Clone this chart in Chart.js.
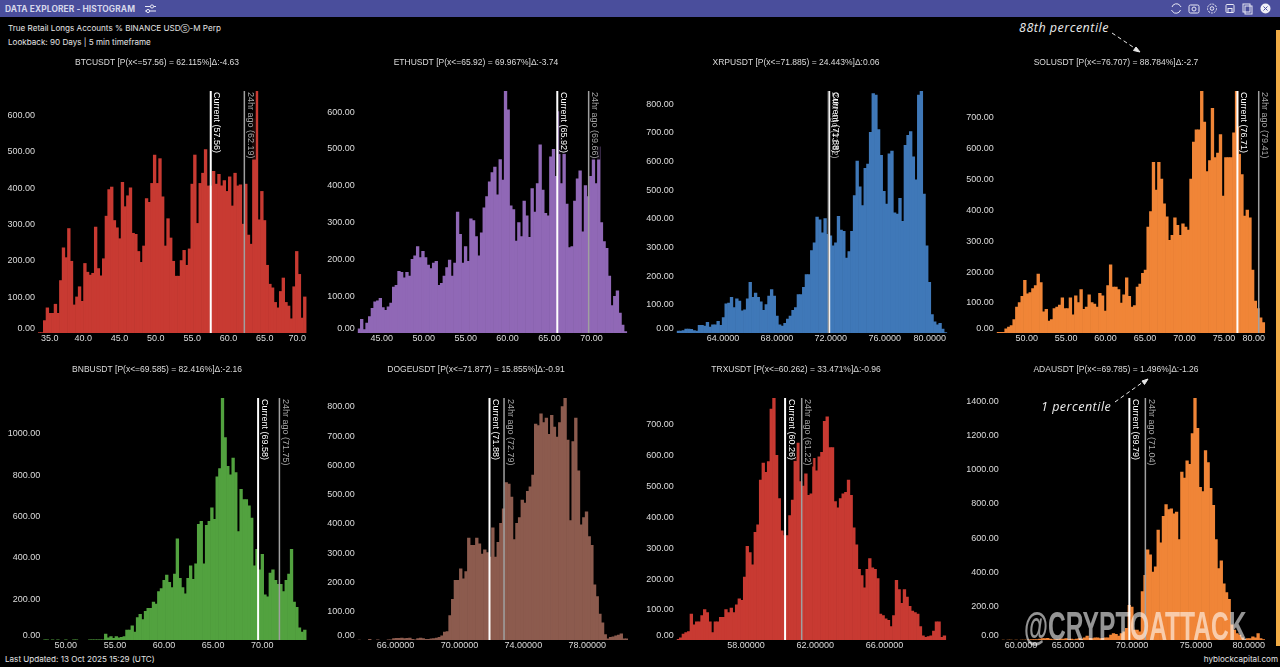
<!DOCTYPE html>
<html>
<head>
<meta charset="utf-8">
<title>Data Explorer - Histogram</title>
<script src="https://cdn.jsdelivr.net/npm/chart.js@4"></script>
<style>
    html, body { margin: 0; padding: 0; background: #000; width: 1280px; height: 667px; overflow: hidden; }
    body { position: relative; font-family: Inter, "Liberation Sans", sans-serif; color: #e4e4e4; }
    canvas { position: absolute; }
    .bar { position: absolute; left: 0; top: 0; width: 1280px; height: 17px; background: #4a4e9c; }
    .bar b { position: absolute; left: 5px; top: 2.5px; font-size: 8.4px; line-height: 12px; color: #d6d7ea; font-weight: 700; letter-spacing: 0.1px; }
    .line { position: absolute; left: 8px; font-size: 8.1px; line-height: 12px; white-space: nowrap; }
    .line span { font-size: 6.5px; }
    .foot { position: absolute; top: 653px; font-size: 8.1px; line-height: 12px; white-space: nowrap; }
    .note { position: absolute; font-family: "Open Sans", sans-serif; font-style: italic; font-size: 12.5px; line-height: 16px; letter-spacing: 0.5px; color: #ececec; white-space: nowrap; z-index: 3; }
    .mark { position: absolute; left: 1024px; top: 604px; font-family: "Liberation Sans", sans-serif; font-weight: 700; font-size: 41px; line-height: 44px; color: rgba(255,255,255,0.58); white-space: nowrap; z-index: 3; transform: scaleX(0.6); transform-origin: left top; }
    .scroll { position: absolute; left: 1276px; top: 30px; width: 4px; height: 616px; background: #f0ab45; }
    svg { position: absolute; }
</style>
</head>
<body>
<div class="bar"><b>DATA EXPLORER - HISTOGRAM</b></div>
<svg style="left:0;top:0;z-index:2" width="1280" height="17" fill="none" stroke="#e8e8f4" stroke-width="1">
    <path d="M145 6.5h11M145 11h11"/><circle cx="152" cy="6.5" r="1.6" fill="#4a4e9c"/><circle cx="148" cy="11" r="1.6" fill="#4a4e9c"/>
    <path d="M1172 7a4.6 4.6 0 0 1 8-1.5l1 1.5M1180.500 10a4.600 4.600 0 0 1-8 1.500l-1-1.500"/>
    <rect x="1189" y="5" width="10" height="8" rx="1.500"/><circle cx="1194" cy="9" r="2"/>
    <circle cx="1212" cy="8.500" r="4.500" stroke-dasharray="2 1"/><circle cx="1212" cy="8.500" r="1.800"/>
    <rect x="1226" y="4.500" width="8" height="8" rx="1"/><rect x="1228" y="8.500" width="4" height="4"/>
    <rect x="1243" y="4" width="7" height="8"/><rect x="1245" y="6" width="7" height="8"/>
    <circle cx="1265.500" cy="8.500" r="5" fill="#f0f0f6" stroke="none"/><path d="M1263.500 6.500l4 4M1267.500 6.500l-4 4" stroke="#4a4e9c"/>
</svg>
<div class="line" style="top:22px">True Retail Longs Accounts % BINANCE USD<span>Ⓢ</span>-M Perp</div>
<div class="line" style="top:36px">Lookback: 90 Days | 5 min timeframe</div>
<div class="foot" style="left:5px">Last Updated: 13 Oct 2025 15:29 (UTC)</div>
<div class="foot" style="right:2px">hyblockcapital.com</div>
<div class="note" style="left:1019px;top:20px">88th percentile</div>
<div class="note" style="left:1041px;top:399px">1 percentile</div>
<svg style="left:0;top:0;z-index:3" width="1280" height="667" fill="none" stroke="#e8e8e8" stroke-width="1">
    <path d="M1112 33L1136 49" stroke-dasharray="4 3"/><path d="M1140 52l-6.500-1.500 2.500-3.500z" fill="#e8e8e8"/>
    <path d="M1115 402L1143 382" stroke-dasharray="4 3"/><path d="M1148 379l-3.500 5.500-2.500-3.500z" fill="#e8e8e8"/>
</svg>
<div class="mark">@CRYPTOATTACK</div>
<div class="scroll"></div>

<script>
// bin counts
const btcValues = [2,2,35,70,55,55,80,55,145,235,208,288,198,78,100,128,88,192,168,160,165,292,178,158,205,322,395,402,310,290,260,415,348,378,400,275,272,225,195,240,370,360,412,490,412,480,375,240,315,262,198,157,157,200,228,187,232,410,490,302,412,440,505,405,405,445,410,437,405,420,390,430,350,440,405,408,300,410,270,245,590,665,312,390,310,187,135,125,85,70,115,152,85,75,40,128,225,162,42,100];
const ethValues = [12,38,10,28,45,68,85,88,95,70,62,72,82,125,130,168,165,150,165,155,200,210,235,205,222,205,185,175,190,195,130,135,155,178,198,155,190,328,268,190,235,195,310,305,262,210,272,340,370,410,435,450,375,470,415,655,605,345,335,250,300,262,358,318,260,392,328,405,510,388,325,318,478,498,425,600,405,490,350,232,235,358,418,440,275,400,370,425,475,405,505,300,248,230,155,75,100,115,55,22,5];
const xrpValues = [8,8,10,15,15,14,10,8,28,28,25,38,22,30,30,42,28,55,103,105,125,90,120,112,78,82,120,178,125,140,125,110,80,100,130,152,130,60,30,25,35,50,60,80,90,135,135,160,205,205,288,315,405,395,350,400,345,340,305,315,408,360,355,262,285,355,480,600,510,445,575,590,700,835,830,710,620,495,450,625,635,420,415,470,390,655,690,703,615,535,830,843,485,305,178,65,40,30,35,15,3];
const solValues = [3,3,3,15,20,25,45,85,100,120,172,128,132,145,155,192,165,70,78,40,45,80,85,92,115,80,80,115,60,122,100,142,78,85,125,100,95,85,130,122,72,155,222,150,150,142,98,125,180,120,85,90,150,160,195,205,345,395,555,465,555,500,420,378,302,318,375,350,318,355,345,335,500,620,660,660,785,685,525,560,730,570,585,645,445,570,570,570,650,785,670,515,380,400,375,205,105,80,50,35];
const bnbValues = [2,2,0,2,0,2,0,0,2,0,0,2,2,0,0,0,0,2,2,2,2,2,3,30,12,18,10,18,12,15,18,50,50,70,40,110,125,100,140,155,155,185,175,235,250,290,315,280,255,320,490,300,255,225,300,360,295,370,560,575,370,555,575,640,585,790,830,1169,980,840,800,880,810,525,730,680,680,650,590,360,440,340,415,220,210,325,340,290,270,270,235,290,320,440,185,160,60,40,50];
const dogeValues = [1,0,0,0,3,0,0,2,0,0,0,2,2,6,7,7,8,6,7,8,3,2,6,8,6,3,3,5,6,8,10,15,28,30,85,140,205,205,245,210,235,350,325,325,350,330,295,310,300,285,385,285,335,400,450,540,535,490,345,400,420,480,470,510,525,565,740,735,775,745,760,705,770,730,695,745,800,828,685,410,680,760,580,395,420,440,355,325,190,150,90,60,20,5,10,12,15,18,22,5,5];
const trxValues = [3,8,20,25,28,85,50,60,60,80,100,90,60,25,60,60,75,75,100,90,105,90,115,135,130,205,305,285,245,350,375,520,575,545,580,750,785,600,460,355,340,340,405,455,590,640,515,500,540,470,475,590,550,595,610,710,725,625,625,450,430,460,475,480,520,470,365,310,230,210,170,230,265,235,230,200,85,80,70,65,45,80,195,165,120,165,140,110,95,90,85,45,15,10,12,15,30,60,60,10,15];
const adaValues = [2,0,2,2,0,2,0,2,2,2,3,5,5,5,8,10,10,12,8,5,5,5,8,8,10,5,8,5,8,10,8,15,25,12,10,15,15,10,12,15,15,30,40,35,25,40,50,70,205,195,60,60,50,285,380,530,500,400,430,645,570,725,795,765,770,740,750,590,985,950,1050,1030,1210,1416,1240,895,870,1110,1040,890,790,590,420,465,330,280,240,90,60,40,30,15,5,10,10,20,15,40,10,5];

const btcYTicks = [0,100,200,300,400,500,600];
const ethYTicks = [0,100,200,300,400,500,600];
const xrpYTicks = [0,100,200,300,400,500,600,700,800];
const solYTicks = [0,100,200,300,400,500,600,700];
const bnbYTicks = [0,200,400,600,800,1000];
const dogeYTicks = [0,100,200,300,400,500,600,700,800];
const trxYTicks = [0,100,200,300,400,500,600,700];
const adaYTicks = [0,200,400,600,800,1000,1200,1400];

const btcXTicks = [35,40,45,50,55,60,65,70];
const ethXTicks = [45,50,55,60,65,70];
const xrpXTicks = [64,68,72,76,80];
const solXTicks = [50,55,60,65,70,75,80];
const bnbXTicks = [50,55,60,65,70];
const dogeXTicks = [66,70,74,78];
const trxXTicks = [58,62,66];
const adaXTicks = [60,65,70,75,80];

const titles = [
    'BTCUSDT [P(x<=57.56) = 62.115%]Δ:-4.63',
    'ETHUSDT [P(x<=65.92) = 69.967%]Δ:-3.74',
    'XRPUSDT [P(x<=71.885) = 24.443%]Δ:0.06',
    'SOLUSDT [P(x<=76.707) = 88.784%]Δ:-2.7',
    'BNBUSDT [P(x<=69.585) = 82.416%]Δ:-2.16',
    'DOGEUSDT [P(x<=71.877) = 15.855%]Δ:-0.91',
    'TRXUSDT [P(x<=60.262) = 33.471%]Δ:-0.96',
    'ADAUSDT [P(x<=69.785) = 1.496%]Δ:-1.26'
];

const currentValues = [57.56, 65.92, 71.88, 76.71, 69.58, 71.88, 60.26, 69.79];
const dayAgoValues = [62.19, 69.66, 71.82, 79.41, 71.75, 72.79, 61.22, 71.04];

// [first bin edge, last bin edge, right end of the axis]
const xRanges = [
    [33.76, 70.70, 70.96],
    [42.13, 74.20, 74.35],
    [60.57, 80.60, 80.69],
    [46.20, 80.17, 80.46],
    [47.71, 74.47, 74.66],
    [63.63, 80.55, 80.55],
    [54.00, 69.54, 69.67],
    [59.82, 80.36, 80.54]
];

const panels = [
    { values: btcValues, yTicks: btcYTicks, xTicks: btcXTicks, digits: 1, color: '#c83a32', left: 0, plotLeft: 38, plotRight: 308 },
    { values: ethValues, yTicks: ethYTicks, xTicks: ethXTicks, digits: 2, color: '#9068b6', left: 319, plotLeft: 357.7, plotRight: 628 },
    { values: xrpValues, yTicks: xrpYTicks, xTicks: xrpXTicks, digits: 4, color: '#3f78b8', left: 639, plotLeft: 676.7, plotRight: 948 },
    { values: solValues, yTicks: solYTicks, xTicks: solXTicks, digits: 2, color: '#f08537', left: 959, plotLeft: 996.7, plotRight: 1267 },
    { values: bnbValues, yTicks: bnbYTicks, xTicks: bnbXTicks, digits: 2, color: '#52a23f', left: 0, plotLeft: 43.3, plotRight: 308 },
    { values: dogeValues, yTicks: dogeYTicks, xTicks: dogeXTicks, digits: 5, color: '#8c5b4e', left: 319, plotLeft: 357.7, plotRight: 628 },
    { values: trxValues, yTicks: trxYTicks, xTicks: trxXTicks, digits: 5, color: '#c83a32', left: 639, plotLeft: 676.7, plotRight: 948 },
    { values: adaValues, yTicks: adaYTicks, xTicks: adaXTicks, digits: 4, color: '#f08537', left: 959, plotLeft: 1001.7, plotRight: 1267 }
];

const chartFont = '"Liberation Sans"';

// the site pulls edge labels inside the plot and lifts the 0.00 label off the baseline
const labelNudge = {
    id: 'labelNudge',
    beforeDraw(chart) {
        if (chart.$nudged) return;
        chart.$nudged = true;
        const area = chart.chartArea;
        const ctx = chart.ctx;
        chart.scales.x.getLabelItems(area).forEach(item => {
            ctx.font = item.font.string;
            const half = ctx.measureText(item.label).width / 2;
            const t = item.options.translation;
            t[0] = Math.min(Math.max(t[0], area.left + 3 + half), area.right - 2 - half);
        });
        chart.scales.y.getLabelItems(area).forEach(item => {
            item.options.translation[1] += item.label === '0.00' ? -4.3 : 0.7;
        });
    }
};

const markers = {
    id: 'markers',
    afterDatasetsDraw(chart, args, opts) {
        const { ctx, chartArea, scales } = chart;
        const list = [
            { value: opts.dayAgo, text: '24hr ago (' + opts.dayAgo.toFixed(2) + ')', line: '#a0a0a0', width: 1.5, color: '#a8a8a8' },
            { value: opts.current, text: 'Current (' + opts.current.toFixed(2) + ')', line: '#ffffff', width: 2, color: '#ffffff' }
        ];
        ctx.save();
        ctx.font = '9px ' + chartFont;
        ctx.textAlign = 'left';
        ctx.textBaseline = 'middle';
        // black strips first, so two close labels both stay readable
        list.forEach(m => {
            const x = scales.x.getPixelForValue(m.value);
            ctx.fillStyle = 'rgba(0,0,0,0.85)';
            ctx.fillRect(x + 1.5, chartArea.top, 10, ctx.measureText(m.text).width + 2);
        });
        list.slice().reverse().forEach(m => {
            const x = scales.x.getPixelForValue(m.value);
            ctx.strokeStyle = m.line;
            ctx.lineWidth = m.width;
            ctx.beginPath();
            ctx.moveTo(x, chartArea.top);
            ctx.lineTo(x, chartArea.bottom);
            ctx.stroke();
        });
        list.forEach(m => {
            const x = scales.x.getPixelForValue(m.value);
            ctx.save();
            ctx.translate(x + 6, chartArea.top + 1);
            ctx.rotate(Math.PI / 2);
            ctx.fillStyle = m.color;
            ctx.fillText(m.text, 0, 0);
            ctx.restore();
        });
        ctx.restore();
    }
};

panels.forEach((panel, i) => {
    const canvas = document.createElement('canvas');
    canvas.width = 314;
    canvas.height = 292;
    canvas.style.left = panel.left + 'px';
    canvas.style.top = (i < 4 ? 54 : 361) + 'px';
    document.body.appendChild(canvas);

    const [binStart, binEnd, axisEnd] = xRanges[i];
    const binWidth = (binEnd - binStart) / panel.values.length;
    const bars = panel.values.map((v, k) => ({ x: binStart + (k + 0.5) * binWidth, y: v }));
    // same padding both sides keeps the title on the middle of the canvas
    const sidePad = panel.left + 314 - panel.plotRight;

    new Chart(canvas.getContext('2d'), {
        type: 'bar',
        data: {
            datasets: [{
                data: bars,
                backgroundColor: panel.color,
                borderWidth: 0,
                barPercentage: 1.25,
                categoryPercentage: 1
            }]
        },
        options: {
            responsive: false,
            animation: false,
            events: [],
            layout: { padding: { left: sidePad, right: sidePad, top: 0, bottom: 0 } },
            plugins: {
                legend: { display: false },
                tooltip: { enabled: false },
                title: {
                    display: true,
                    text: titles[i],
                    color: '#dcdcdc',
                    font: { family: chartFont, size: 8.5, weight: 'normal' },
                    padding: { top: 3.6, bottom: 23.2 }
                },
                markers: { current: currentValues[i], dayAgo: dayAgoValues[i] }
            },
            scales: {
                x: {
                    type: 'linear',
                    offset: false,
                    min: binStart,
                    max: axisEnd,
                    grid: { display: false, drawTicks: false },
                    border: { display: false },
                    afterBuildTicks: scale => { scale.ticks = panel.xTicks.map(v => ({ value: v })); },
                    afterFit: scale => {
                        scale.height = 13;
                        scale.paddingLeft = 0;
                        scale.paddingRight = 0;
                    },
                    ticks: {
                        autoSkip: false,
                        maxRotation: 0,
                        padding: 0,
                        color: '#dcdcdc',
                        font: { family: chartFont, size: 9 },
                        callback: v => Number(v).toFixed(panel.digits)
                    }
                },
                y: {
                    min: 0,
                    max: Math.max(...panel.values),
                    grid: { display: false, drawTicks: false },
                    border: { display: false },
                    afterBuildTicks: scale => { scale.ticks = panel.yTicks.map(v => ({ value: v })); },
                    afterFit: scale => {
                        scale.width = panel.plotLeft - panel.left - sidePad;
                        scale.paddingTop = 0;
                        scale.paddingBottom = 0;
                    },
                    ticks: {
                        autoSkip: false,
                        padding: 3,
                        color: '#dcdcdc',
                        font: { family: chartFont, size: 9 },
                        callback: v => Number(v).toFixed(2)
                    }
                }
            }
        },
        plugins: [labelNudge, markers]
    });
});
</script>
</body>
</html>
